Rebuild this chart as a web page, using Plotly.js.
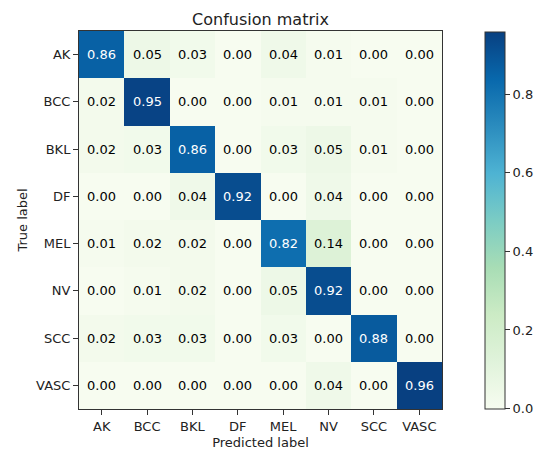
<!DOCTYPE html>
<html>
<head>
<meta charset="utf-8">
<script src="https://cdn.plot.ly/plotly-3.0.1.min.js"></script>
<style>html,body{margin:0;padding:0;background:#fff}</style>
</head>
<body>
<div id="chart" style="width:542px;height:453px"></div>
<script>
const predictedLabels = ["AK","BCC","BKL","DF","MEL","NV","SCC","VASC"];
const trueLabels = ["AK","BCC","BKL","DF","MEL","NV","SCC","VASC"];
const rowAK   = [0.86,0.05,0.03,0.00,0.04,0.01,0.00,0.00];
const rowBCC  = [0.02,0.95,0.00,0.00,0.01,0.01,0.01,0.00];
const rowBKL  = [0.02,0.03,0.86,0.00,0.03,0.05,0.01,0.00];
const rowDF   = [0.00,0.00,0.04,0.92,0.00,0.04,0.00,0.00];
const rowMEL  = [0.01,0.02,0.02,0.00,0.82,0.14,0.00,0.00];
const rowNV   = [0.00,0.01,0.02,0.00,0.05,0.92,0.00,0.00];
const rowSCC  = [0.02,0.03,0.03,0.00,0.03,0.00,0.88,0.00];
const rowVASC = [0.00,0.00,0.00,0.00,0.00,0.04,0.00,0.96];
const colorbarTicks = [0.0,0.2,0.4,0.6,0.8];

const z = [rowAK,rowBCC,rowBKL,rowDF,rowMEL,rowNV,rowSCC,rowVASC];
const zmax = 0.96;
const gnbu = [
  [0.0,'#f7fcf0'],[0.125,'#e0f3db'],[0.25,'#ccebc5'],[0.375,'#a8ddb5'],
  [0.5,'#7bccc4'],[0.625,'#4eb3d3'],[0.75,'#2b8cbe'],[0.875,'#0868ac'],[1.0,'#084081']
];
const FONT = 'DejaVu Sans, sans-serif';
const annotations = [];
z.forEach((row,i)=>row.forEach((v,j)=>{
  annotations.push({x:predictedLabels[j], y:trueLabels[i], xref:'x', yref:'y',
    text:v.toFixed(2), showarrow:false,
    font:{family:FONT,size:13,color: v > zmax/2 ? '#ffffff' : '#000000'}});
}));

const data = [{
  type:'heatmap', z:z, x:predictedLabels, y:trueLabels,
  colorscale:gnbu, zmin:0, zmax:zmax,
  hoverinfo:'skip',
  colorbar:{
    thickness:20, len:377, lenmode:'pixels', x:1.118, xanchor:'left', y:0.5, yanchor:'middle',
    xpad:0, ypad:0,
    outlinewidth:1, outlinecolor:'#333',
    tickvals:colorbarTicks, tickformat:'.1f', ticks:'outside', ticklen:5, tickcolor:'#333',
    tickfont:{family:FONT,size:13,color:'#222'}
  }
}];

const layout = {
  width:542, height:453,
  margin:{l:79, r:100, t:31, b:44, autoexpand:false},
  paper_bgcolor:'#fff', plot_bgcolor:'#fff',
  font:{family:FONT,size:13,color:'#222'},
  title:{text:'Confusion matrix', font:{family:FONT,size:16,color:'#222'},
         x:0.5, xref:'paper', xanchor:'center', y:1, yref:'paper', yanchor:'bottom', pad:{b:6}},
  xaxis:{type:'category', showline:true, mirror:true, linecolor:'#333', linewidth:1,
         ticks:'outside', ticklen:5, tickcolor:'#333', showgrid:false, zeroline:false,
         tickfont:{family:FONT,size:13,color:'#222'},
         title:{text:'Predicted label', font:{family:FONT,size:13,color:'#222'}, standoff:5}},
  yaxis:{type:'category', autorange:'reversed', showline:true, mirror:true, linecolor:'#333', linewidth:1,
         ticks:'outside', ticklen:5, tickcolor:'#333', showgrid:false, zeroline:false,
         tickfont:{family:FONT,size:13,color:'#222'},
         title:{text:'True label', font:{family:FONT,size:13,color:'#222'}, standoff:5}},
  annotations:annotations
};
Plotly.newPlot('chart', data, layout, {staticPlot:true, displayModeBar:false});
</script>
</body>
</html>
